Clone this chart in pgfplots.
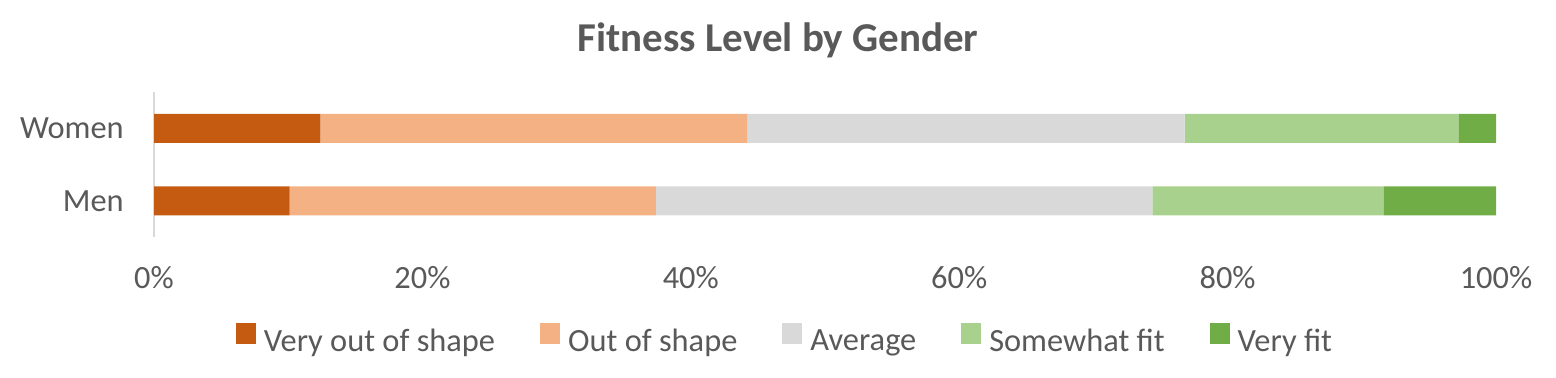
\documentclass[border=0pt]{standalone}
\usepackage{fontspec}
\setmainfont{Carlito}
\usepackage{pgfplots}
\pgfplotsset{compat=1.18}
\definecolor{c1}{HTML}{C55A11}
\definecolor{c2}{HTML}{F4B183}
\definecolor{c3}{HTML}{D9D9D9}
\definecolor{c4}{HTML}{A9D18E}
\definecolor{c5}{HTML}{70AD47}
\definecolor{txt}{HTML}{595959}
\begin{document}
\begin{tikzpicture}
\path[use as bounding box] (-77pt,-70pt) rectangle (701pt,118.5pt);
\begin{axis}[
  scale only axis,
  width=671pt, height=72.5pt,
  xbar stacked,
  bar width=14.5pt,
  xmin=0, xmax=100,
  ymin=-0.5, ymax=1.5,
  ytick={0,1}, yticklabels={Men,Women},
  xtick={0,20,40,60,80,100},
  xticklabels={0\%,20\%,40\%,60\%,80\%,100\%},
  axis y line*=left,
  axis x line*=bottom,
  x axis line style={draw=none},
  y axis line style={draw=c3, line width=1pt},
  major tick length=0pt,
  tick style={draw=none},
  ticklabel style={font=\fontsize{16.2}{19}\selectfont, text=txt},
  xticklabel style={yshift=-11pt},
  yticklabel style={xshift=-11.6pt},
  legend columns=5,
  legend style={
    at={(0.4694,-0.715)}, anchor=center, draw=none, fill=none,
    font=\fontsize{16.2}{19}\selectfont, text=txt,
    nodes={inner xsep=0pt},
    /tikz/every odd column/.append style={column sep=4pt},
    /tikz/every even column/.append style={column sep=22.5pt},
  },
  legend image code/.code={\fill[#1] (0pt,-0.8pt) rectangle (10pt,9.7pt);},
]
\addplot[fill=c1, draw=none] coordinates {(10.1,0) (12.4,1)};
\addplot[fill=c2, draw=none] coordinates {(27.3,0) (31.8,1)};
\addplot[fill=c3, draw=none] coordinates {(37.0,0) (32.6,1)};
\addplot[fill=c4, draw=none] coordinates {(17.2,0) (20.4,1)};
\addplot[fill=c5, draw=none] coordinates {(8.4,0) (2.8,1)};
\legend{Very out of shape, Out of shape, Average, Somewhat fit, Very fit}
\end{axis}
\node[anchor=base, text=txt, font=\fontsize{20.5}{24}\selectfont\bfseries] at (312pt,92.6pt) {Fitness Level by Gender};
\end{tikzpicture}
\end{document}
